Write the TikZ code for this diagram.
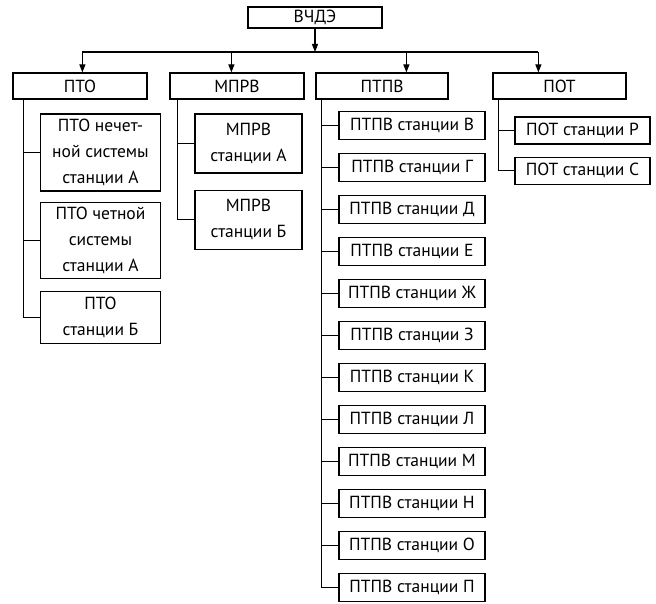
\documentclass[tikz,border=0pt]{standalone}
\usepackage{fontspec}
\setmainfont{PT Sans}
\usetikzlibrary{arrows.meta,positioning}

\begin{document}
\begin{tikzpicture}[
    x=1pt, y=-1pt,
    box/.style={rectangle, draw, line width=1.2pt, inner sep=1pt, align=center,
        font=\fontsize{17.5}{26}\selectfont},
    head/.style={box, minimum width=134pt, minimum height=26pt},
    pto/.style={box, minimum width=120pt},
    mprv/.style={box, minimum width=107pt, minimum height=59pt},
    ptpv/.style={box, minimum width=146pt, minimum height=28pt},
    pot/.style={box, minimum width=135pt, minimum height=27pt},
    link/.style={line width=1.2pt},
    arrow/.style={link, -{Triangle[length=8pt, width=6pt]}}
]
\useasboundingbox (0,0) rectangle (656,604);

% Top
\node[box, minimum width=134pt, minimum height=21pt] (vchde) at (315,17.5) {ВЧДЭ};

% Row 1: departments
\node[head] (pto) at (80,86) {ПТО};
\node[head] (mprv) at (237,86) {МПРВ};
\node[head, minimum width=132pt] (ptpv) at (382,86) {ПТПВ};
\node[head, minimum width=133pt] (pot) at (559.5,86) {ПОТ};

% ПТО units
\node[pto, minimum height=77pt] (pto1) at (100.5,152.5) {ПТО нечет-\\ной системы\\станции А};
\node[pto, minimum height=76pt, below=10pt of pto1] (pto2) {ПТО четной\\системы\\станции А};
\node[pto, minimum height=52pt, below=12pt of pto2] (pto3) {ПТО\\станции Б};

% МПРВ units
\node[mprv] (mprv1) at (248.5,143.5) {МПРВ\\станции А};
\node[mprv, below=16pt of mprv1] (mprv2) {МПРВ\\станции Б};

% ПТПВ units
\node[ptpv] (ptpv1) at (412,125.5) {ПТПВ станции В};
\node[ptpv, below=12.8pt of ptpv1] (ptpv2) {ПТПВ станции Г};
\node[ptpv, below=12.8pt of ptpv2] (ptpv3) {ПТПВ станции Д};
\node[ptpv, below=12.8pt of ptpv3] (ptpv4) {ПТПВ станции Е};
\node[ptpv, below=12.8pt of ptpv4] (ptpv5) {ПТПВ станции Ж};
\node[ptpv, below=12.8pt of ptpv5] (ptpv6) {ПТПВ станции З};
\node[ptpv, below=12.8pt of ptpv6] (ptpv7) {ПТПВ станции К};
\node[ptpv, below=12.8pt of ptpv7] (ptpv8) {ПТПВ станции Л};
\node[ptpv, below=12.8pt of ptpv8] (ptpv9) {ПТПВ станции М};
\node[ptpv, below=12.8pt of ptpv9] (ptpv10) {ПТПВ станции Н};
\node[ptpv, below=12.8pt of ptpv10] (ptpv11) {ПТПВ станции О};
\node[ptpv, below=12.8pt of ptpv11] (ptpv12) {ПТПВ станции П};

% ПОТ units
\node[pot] (pot1) at (582.5,130.5) {ПОТ станции Р};
\node[pot, below=12pt of pot1] (pot2) {ПОТ станции С};

% Bus from ВЧДЭ
\coordinate (bus) at (315,52);
\coordinate (in1) at ([xshift=70pt]pto.north west);
\coordinate (in2) at ([xshift=62pt]mprv.north west);
\coordinate (in3) at ([xshift=91pt]ptpv.north west);
\coordinate (in4) at ([xshift=46pt]pot.north west);
\draw[arrow] (vchde.south) -- (bus);
\draw[link] (bus -| in1) -- (bus -| in4);
\draw[arrow] (bus -| in1) -- (in1);
\draw[arrow] (bus -| in2) -- (in2);
\draw[arrow] (bus -| in3) -- (in3);
\draw[arrow] (bus -| in4) -- (in4);

% Spines
\coordinate (s1) at ([xshift=11pt]pto.south west);
\coordinate (s2) at ([xshift=8pt]mprv.south west);
\coordinate (s3) at ([xshift=6pt]ptpv.south west);
\coordinate (s4) at ([xshift=6pt]pot.south west);

\draw[link] (s1) |- (pto3.west);
\draw[link] (s1 |- pto1.west) -- (pto1.west);
\draw[link] (s1 |- pto2.west) -- (pto2.west);

\draw[link] (s2) |- (mprv2.west);
\draw[link] (s2 |- mprv1.west) -- (mprv1.west);

\draw[link] (s3) |- (ptpv12.west);
\draw[link] (s3 |- ptpv1.west) -- (ptpv1.west);
\draw[link] (s3 |- ptpv2.west) -- (ptpv2.west);
\draw[link] (s3 |- ptpv3.west) -- (ptpv3.west);
\draw[link] (s3 |- ptpv4.west) -- (ptpv4.west);
\draw[link] (s3 |- ptpv5.west) -- (ptpv5.west);
\draw[link] (s3 |- ptpv6.west) -- (ptpv6.west);
\draw[link] (s3 |- ptpv7.west) -- (ptpv7.west);
\draw[link] (s3 |- ptpv8.west) -- (ptpv8.west);
\draw[link] (s3 |- ptpv9.west) -- (ptpv9.west);
\draw[link] (s3 |- ptpv10.west) -- (ptpv10.west);
\draw[link] (s3 |- ptpv11.west) -- (ptpv11.west);

\draw[link] (s4) |- (pot2.west);
\draw[link] (s4 |- pot1.west) -- (pot1.west);

\end{tikzpicture}
\end{document}
